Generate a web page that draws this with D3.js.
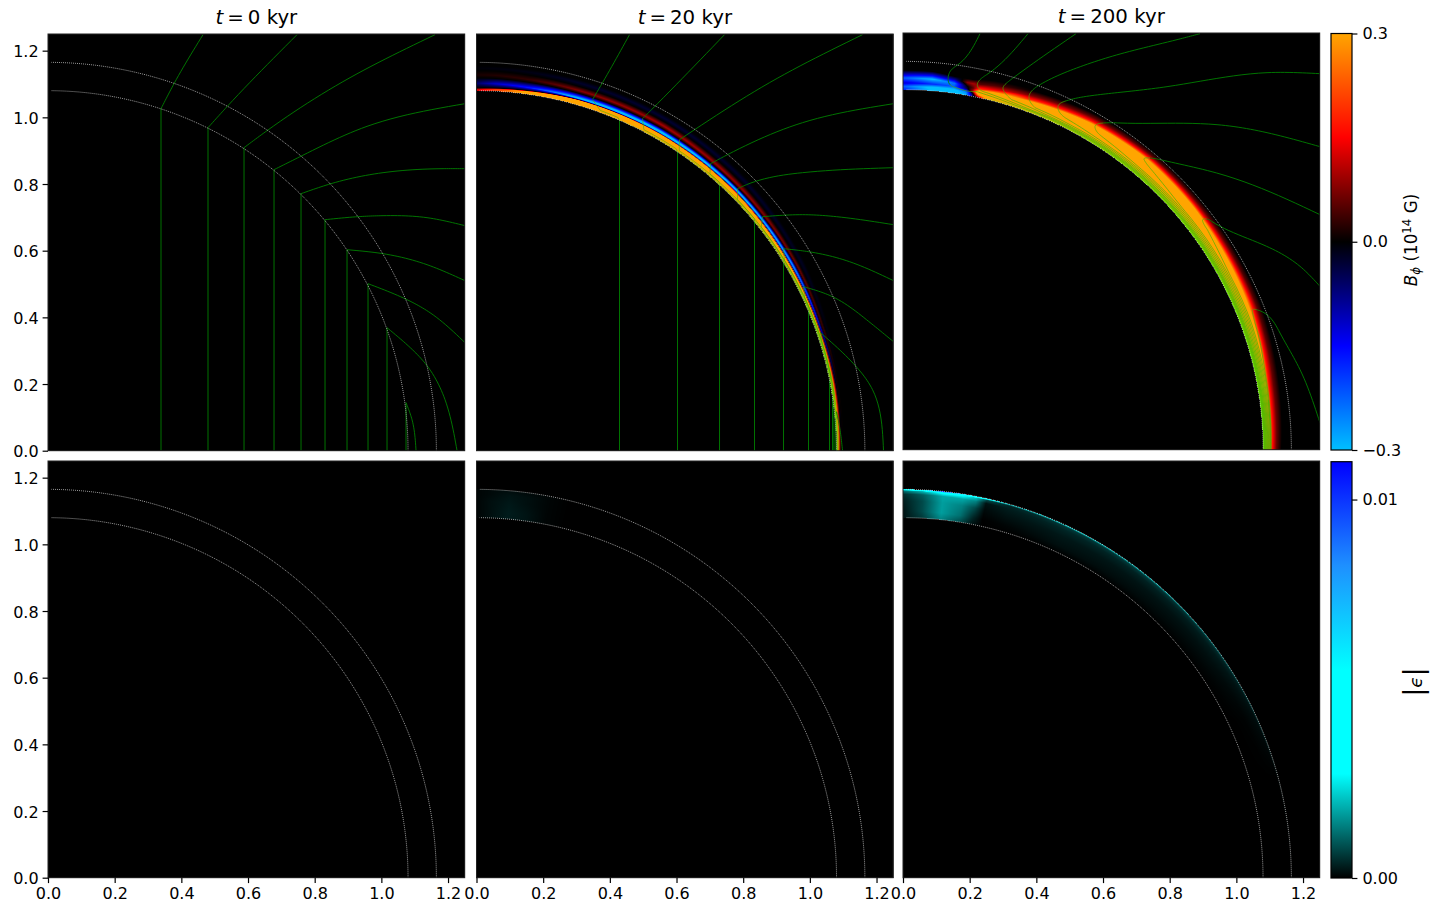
<!DOCTYPE html>
<html>
  <head>
    <meta charset="utf-8" />
    <title>Crust field evolution</title>
    <script src="https://cdnjs.cloudflare.com/ajax/libs/d3/7.8.5/d3.min.js"></script>
    <style type="text/css">
      html, body { margin: 0; background: #fff; }
      svg { display: block; }
      text { font-family: "DejaVu Sans", sans-serif; fill: #000; }
    </style>
  </head>
  <body>
    <svg id="fig" width="1431" height="908"></svg>

    <script type="text/javascript">

    var axisTicks = [0, 0.2, 0.4, 0.6, 0.8, 1.0, 1.2];
    var titles = ['0', '20', '200'];
    var innerR = 1.08, outerR = 1.165;

    // t = 0: straight core lines, then the tails outside the crust
    var t0Tails = [
      [[.339,1.026],[.378,1.101],[.465,1.248]],
      [[.480,.969],[.537,1.032],[.747,1.248]],
      [[.588,.909],[.657,.960],[.906,1.119],[1.161,1.248]],
      [[.678,.843],[.762,.885],[.957,.973],[1.251,1.041]],
      [[.759,.771],[.849,.801],[1.005,.834],[1.185,.846],[1.251,.846]],
      [[.831,.693],[.930,.702],[1.005,.705],[1.137,.699],[1.251,.675]],
      [[.897,.603],[1.005,.591],[1.137,.558],[1.251,.510]],
      [[.960,.501],[1.077,.453],[1.146,.414],[1.251,.324]],
      [[1.017,.369],[1.077,.318],[1.137,.255],[1.191,.153],[1.227,0]],
      [[1.074,.144],[1.092,.093],[1.104,0]]
    ];

    // t = 20 kyr: core feet have moved, tails start where the line leaves the band
    var t20Feet = [.429, .603, .729, .834, .921, .996, 1.059, 1.068, 1.072, 1.076];
    var t20Tails = [
      [[.348,1.053],[.378,1.104],[.459,1.248]],
      [[.498,.996],[.525,1.023],[.744,1.248]],
      [[.609,.933],[.879,1.104],[1.158,1.248]],
      [[.702,.861],[.753,.888],[.978,.984],[1.251,1.041]],
      [[.783,.786],[.810,.798],[.978,.834],[1.251,.849]],
      [[.858,.702],[.978,.708],[1.08,.702],[1.251,.678]],
      [[.921,.606],[.996,.597],[1.119,.567],[1.251,.51]],
      [[.981,.492],[1.068,.462],[1.17,.393],[1.251,.327]],
      [[1.032,.354],[1.131,.261],[1.188,.183],[1.221,0]],
      [[1.08,.117],[1.089,.072],[1.098,0]]
    ];

    // t = 200 kyr: everything is swept along the band, lines hook at the top of it
    var t200HugR = [1.086, 1.089, 1.092, 1.096, 1.10, 1.104, 1.108, 1.112, 1.115];
    var t200HugEq = [1.084, 1.0865, 1.089, 1.0915, 1.094, 1.0965, 1.099, 1.1015, 1.104];
    var t200Hooks = [
      [[.222,1.074],[.192,1.076],[.162,1.085],[.141,1.095],[.141,1.134],[.165,1.155],[.231,1.248]],
      [[.251,1.071],[.231,1.08],[.223,1.095],[.231,1.11],[.251,1.125],[.375,1.248]],
      [[.326,1.05],[.306,1.07],[.30,1.085],[.311,1.10],[.33,1.115],[.519,1.248]],
      [[.396,1.026],[.381,1.045],[.378,1.06],[.39,1.08],[.411,1.095],[.521,1.145],[.651,1.187],[.822,1.23],[.891,1.248]],
      [[.486,.996],[.468,1.015],[.465,1.03],[.491,1.047],[.551,1.06],[.651,1.072],[.792,1.089],[1.092,1.131],[1.251,1.128]],
      [[.596,.94],[.578,.96],[.576,.97],[.601,.98],[.651,.98],[.942,.975],[1.092,.951],[1.251,.909]],
      [[.741,.845],[.726,.865],[.723,.872],[.741,.875],[.781,.868],[.941,.83],[1.251,.705]],
      [[.913,.66],[.901,.68],[.899,.69],[.911,.692],[.926,.685],[1.091,.61],[1.191,.55],[1.251,.49]],
      [[1.056,.38],[1.049,.41],[1.049,.42],[1.061,.42],[1.131,.35],[1.191,.24],[1.251,.08]]
    ];
    var t200LastLine = [[1.103,0],[1.101,.08],[1.096,.15]];

    // B_phi, knots across the crust per latitude (degrees from the equator)
    var t20Angles = [0, 10, 20, 30, 45, 60, 74, 82, 87, 90];
    var t20KnotR = [
      [1.08,1.085,1.092,1.094,1.096,1.098,1.10,1.102,1.104],
      [1.08,1.088,1.095,1.097,1.099,1.101,1.103,1.105,1.107],
      [1.08,1.089,1.092,1.095,1.099,1.103,1.108,1.113,1.12],
      [1.08,1.092,1.094,1.099,1.106,1.11,1.118,1.126,1.135],
      [1.08,1.097,1.099,1.103,1.111,1.118,1.13,1.14,1.15],
      [1.08,1.097,1.099,1.102,1.115,1.124,1.136,1.145,1.155],
      [1.08,1.094,1.096,1.10,1.115,1.123,1.135,1.145,1.155],
      [1.08,1.088,1.091,1.10,1.116,1.124,1.137,1.146,1.155],
      [1.08,1.085,1.089,1.102,1.118,1.127,1.14,1.147,1.155],
      [1.08,1.084,1.088,1.102,1.118,1.127,1.14,1.147,1.155]
    ];
    var t20KnotB = [
      [.25,.3,0,0,0,0,0,0,0],
      [.3,.3,0,-.02,0,.01,0,0,0],
      [.4,.4,0,-.16,0,.04,0,-.01,0],
      [.45,.45,0,-.32,0,.07,0,-.02,0],
      [.45,.45,0,-.42,0,.09,0,-.025,0],
      [.45,.45,0,-.44,0,.1,0,-.03,0],
      [.4,.4,0,-.34,0,.08,0,-.025,0],
      [.32,.32,0,-.17,0,.03,0,-.012,0],
      [.2,.2,0,-.12,0,.02,0,-.008,0],
      [.12,.12,0,-.06,0,.015,0,-.004,0]
    ];
    var t20TintAlpha = [1, 1, .95, .85, .7, .5, 0, 0, 0, 0];
    var t20TintEdge = [1.09, 1.09, 1.09, 1.087, 1.086, 1.085, 1.081, 1.081, 1.081, 1.081];

    var t200Angles = [0, 10, 22, 40, 50, 60, 70, 76, 78, 79, 80, 82, 85.5, 90];
    var t200KnotR = [
      [1.08,1.10,1.108,1.12,1.135,1.145,1.15],
      [1.08,1.105,1.115,1.128,1.145,1.15,1.155],
      [1.08,1.122,1.133,1.145,1.158,1.16,1.162],
      [1.08,1.13,1.143,1.153,1.163,1.164,1.165],
      [1.08,1.133,1.146,1.155,1.165,1.165,1.165],
      [1.08,1.122,1.137,1.148,1.16,1.162,1.164],
      [1.08,1.105,1.118,1.13,1.145,1.15,1.155],
      [1.08,1.09,1.10,1.112,1.125,1.14,1.15],
      [1.08,1.088,1.095,1.105,1.12,1.135,1.15],
      [1.08,1.088,1.095,1.105,1.118,1.13,1.15],
      [1.08,1.09,1.10,1.108,1.118,1.13,1.15],
      [1.08,1.09,1.10,1.11,1.12,1.13,1.15],
      [1.08,1.09,1.10,1.115,1.125,1.138,1.15],
      [1.08,1.09,1.10,1.115,1.125,1.138,1.15]
    ];
    var t200KnotB = [
      [.2,.25,.16,.06,0,0,0],
      [.3,.3,.16,.06,0,0,0],
      [.3,.3,.15,.05,0,0,0],
      [.45,.4,.15,.05,0,0,0],
      [.45,.4,.15,.05,0,0,0],
      [.45,.45,.16,.06,0,0,0],
      [.45,.45,.18,.07,0,0,0],
      [.4,.45,.4,.15,.05,0,0],
      [.05,.3,.45,.2,.05,0,0],
      [-.1,-.05,.1,.05,.1,0,0],
      [-.3,-.25,-.05,0,.08,0,0],
      [-.32,-.32,-.22,-.24,-.1,0,0],
      [-.3,-.32,-.18,-.3,-.15,0,0],
      [-.17,-.22,-.12,-.22,-.12,0,0]
    ];
    var t200TintAlpha = [1, 1, 1, .95, .9, .8, .5, .35, 0, 0, 0, 0, 0, 0];
    var t200TintEdge = [1.108, 1.105, 1.102, 1.10, 1.10, 1.097, 1.092, 1.088, 1.081, 1.081, 1.081, 1.081, 1.081, 1.081];

    // |epsilon| tables
    var epsKnotR = [1.08, 1.10, 1.13, 1.15, 1.16, 1.165];
    var eps20Angles = [0, 76, 79, 82, 85, 88, 90];
    var eps20Values = [
      [0,0,0,0,0,0],
      [0,0,0,0,0,0],
      [.00005,.00005,.00005,.00005,.00005,.00005],
      [.0002,.0002,.00015,.00015,.0001,.0001],
      [.0003,.0003,.00025,.0002,.00015,.00015],
      [.00015,.00015,.00015,.0001,.0001,.0001],
      [.00005,.00005,.00005,.00005,.00005,.00005]
    ];
    var eps200Angles = [0, 15, 25, 35, 50, 65, 74, 77.5, 79, 81, 84, 87, 90];
    var eps200Values = [
      [0,0,0,0,0,0],
      [0,0,0,0,0,.0001],
      [0,0,.00003,.0001,.00015,.0005],
      [0,.00005,.00015,.00025,.0004,.001],
      [0,.0001,.0002,.00035,.0006,.0018],
      [0,.00015,.00025,.0004,.0006,.0022],
      [0,.00005,.0002,.0003,.0004,.002],
      [0,0,.0001,.0002,.0008,.004],
      [.0002,.0004,.0008,.0014,.002,.005],
      [.0008,.0012,.0014,.0018,.0028,.007],
      [.0014,.0017,.0017,.0018,.003,.011],
      [.0006,.0008,.0008,.001,.002,.006],
      [.0002,.0002,.0003,.0005,.0012,.003]
    ];

    var bStops = [-0.3, -0.15, 0, 0.15, 0.3];
    var bColours = ['#00bfff', '#0000ff', '#000000', '#ff0000', '#ffa500'];
    var epsStops = [0, 0.00275, 0.0055, 0.00825, 0.011];
    var epsColours = ['#000000', '#00ffff', '#00ffff', '#1e90ff', '#0000ff'];

    var bColour = d3.scaleLinear().domain(bStops).range(bColours).clamp(true);
    var epsColour = d3.scaleLinear().domain(epsStops).range(epsColours).clamp(true);

    var svg = d3.select('#fig');
    var defs = svg.append('defs');
    var size = 416.7;

    var panels = [
      { left: 48,    top: 34,  col: 0 },
      { left: 476.5, top: 34,  col: 1 },
      { left: 903,   top: 33,  col: 2 },
      { left: 48,    top: 461, col: 0 },
      { left: 476.5, top: 461, col: 1 },
      { left: 903,   top: 461, col: 2 }
    ];

    function polar(r, deg) {
      var a = deg * Math.PI / 180;
      return [r * Math.cos(a), r * Math.sin(a)];
    }

    function toPolar(p) {
      return [Math.hypot(p[0], p[1]), Math.atan2(p[1], p[0]) * 180 / Math.PI];
    }

    // value at (r, deg): knot positions and values both slide between latitude rows
    function tableAt(r, deg, angles, knotR, knotV) {
      var j = Math.min(Math.max(d3.bisectRight(angles, deg), 1), angles.length - 1),
          t = (deg - angles[j - 1]) / (angles[j] - angles[j - 1]),
          rowA = knotR[j - 1], rowB = knotR[j] || rowA,
          valA = knotV[j - 1], valB = knotV[j],
          prevR = rowA[0] + (rowB[0] - rowA[0]) * t,
          prevV = valA[0] + (valB[0] - valA[0]) * t;
      if (r <= prevR) return prevV;
      for (var k = 1; k < rowA.length; k++) {
        var nextR = rowA[k] + (rowB[k] - rowA[k]) * t,
            nextV = valA[k] + (valB[k] - valA[k]) * t;
        if (r <= nextR) return prevV + (nextV - prevV) * (r - prevR) / Math.max(nextR - prevR, 1e-6);
        prevR = nextR;
        prevV = nextV;
      }
      return prevV;
    }

    function rows(knots, n) {
      return d3.range(n).map(function() { return knots; });
    }

    function bField(angles, knotR, knotB, tintAlpha, tintEdge) {
      var alphaAt = d3.scaleLinear().domain(angles).range(tintAlpha),
          edgeAt = d3.scaleLinear().domain(angles).range(tintEdge);
      return function(r, deg) {
        var c = d3.rgb(bColour(tableAt(r, deg, angles, knotR, knotB))),
            m = alphaAt(deg) * (1 - (r - innerR) / (edgeAt(deg) - innerR));
        if (m > 0) {
          c.r += (90 - c.r) * m;
          c.g += (215 - c.g) * m;
          c.b += (0 - c.b) * m;
        }
        return c;
      };
    }

    function epsField(angles, values) {
      var knots = rows(epsKnotR, angles.length);
      return function(r, deg) {
        return d3.rgb(epsColour(tableAt(r, deg, angles, knots, values)));
      };
    }

    var heatFields = [
      null,
      bField(t20Angles, t20KnotR, t20KnotB, t20TintAlpha, t20TintEdge),
      bField(t200Angles, t200KnotR, t200KnotB, t200TintAlpha, t200TintEdge),
      null,
      epsField(eps20Angles, eps20Values),
      epsField(eps200Angles, eps200Values)
    ];

    function rasterField(field, x, y) {
      var w = Math.round(size), h = Math.round(size),
          canvas = document.createElement('canvas');
      canvas.width = w;
      canvas.height = h;
      var ctx = canvas.getContext('2d'),
          img = ctx.createImageData(w, h);
      for (var py = 0; py < h; py++) {
        for (var px = 0; px < w; px++) {
          var i = (py * w + px) * 4,
              dx = x.invert(px + 0.5),
              dy = y.invert(py + 0.5),
              r = Math.hypot(dx, dy);
          img.data[i + 3] = 255;
          if (!field || r < innerR || r > outerR) continue;
          var c = field(r, Math.atan2(dy, dx) * 180 / Math.PI);
          img.data[i] = c.r;
          img.data[i + 1] = c.g;
          img.data[i + 2] = c.b;
        }
      }
      ctx.putImageData(img, 0, 0);
      return canvas.toDataURL();
    }

    // natural spline by chord length, so uneven point spacing doesn't kink the tails
    var splineSteps = 12;

    function secondDerivs(t, v) {
      var n = t.length, d2 = new Array(n).fill(0), u = new Array(n).fill(0), i;
      for (i = 1; i < n - 1; i++) {
        var sig = (t[i] - t[i - 1]) / (t[i + 1] - t[i - 1]),
            p = sig * d2[i - 1] + 2;
        d2[i] = (sig - 1) / p;
        u[i] = (v[i + 1] - v[i]) / (t[i + 1] - t[i]) - (v[i] - v[i - 1]) / (t[i] - t[i - 1]);
        u[i] = (6 * u[i] / (t[i + 1] - t[i - 1]) - sig * u[i - 1]) / p;
      }
      d2[n - 1] = 0;
      for (i = n - 2; i >= 0; i--) d2[i] = d2[i] * d2[i + 1] + u[i];
      return d2;
    }

    function smooth(pts) {
      var t = [0];
      pts.forEach(function(p, i) {
        if (i) t.push(t[i - 1] + Math.hypot(p[0] - pts[i - 1][0], p[1] - pts[i - 1][1]));
      });
      var xs = pts.map(function(p) { return p[0]; }),
          ys = pts.map(function(p) { return p[1]; }),
          ddx = secondDerivs(t, xs),
          ddy = secondDerivs(t, ys),
          out = [];
      function evalAt(v, dd, i, a) {
        var h = t[i + 1] - t[i], b = 1 - a;
        return b * v[i] + a * v[i + 1] + ((b * b * b - b) * dd[i] + (a * a * a - a) * dd[i + 1]) * h * h / 6;
      }
      for (var i = 0; i < pts.length - 1; i++) {
        for (var s = 0; s < splineSteps; s++) {
          out.push([evalAt(xs, ddx, i, s / splineSteps), evalAt(ys, ddy, i, s / splineSteps)]);
        }
      }
      out.push(pts[pts.length - 1]);
      return out;
    }

    var fieldColour = '#008000', hugColour = '#46b400';

    function drawLine(g, line, pts, curve, colour, width) {
      g.append('path')
        .attr('d', line.curve(curve)(pts))
        .attr('fill', 'none')
        .attr('stroke', colour || fieldColour)
        .attr('stroke-width', width || 0.9);
    }

    var centripetal = d3.curveCatmullRom.alpha(0.5);

    function drawT0(g, line) {
      t0Tails.forEach(function(tail) {
        drawLine(g, line, [[tail[0][0], 0], tail[0]], d3.curveLinear);
        drawLine(g, line, smooth(tail), d3.curveLinear);
      });
    }

    function drawT20(g, line) {
      t20Tails.forEach(function(tail, i) {
        var x0 = t20Feet[i],
            foot = [x0, Math.sqrt(innerR * innerR - x0 * x0)],
            from = toPolar(foot)[1],
            to = toPolar(tail[0])[1],
            hug = [foot];
        d3.range(from + 0.4, to - 0.8, 1).forEach(function(a) { hug.push(polar(innerR + 0.006, a)); });
        hug.push(tail[0]);
        drawLine(g, line, [[x0, 0], foot], d3.curveLinear);
        drawLine(g, line, hug, d3.curveLinear, hugColour, 0.6);
        drawLine(g, line, smooth(tail), d3.curveLinear);
      });
    }

    function drawT200(g, line) {
      t200Hooks.forEach(function(hook, i) {
        var start = toPolar(hook[0]),
            hug = [hook[0]],
            path = smooth(hook),
            split = 3 * splineSteps;
        hug.push(polar((start[0] + t200HugR[i]) / 2, start[1] - 3));
        d3.range(start[1] - 8, 0, -2).forEach(function(a) {
          var mix = Math.min(a / 20, 1);
          hug.push(polar(t200HugEq[i] + (t200HugR[i] - t200HugEq[i]) * mix, a));
        });
        hug.push(polar(t200HugEq[i], 0));
        drawLine(g, line, hug, centripetal, hugColour, 0.7);
        drawLine(g, line, path.slice(0, split + 1), d3.curveLinear, hugColour, 0.7);
        drawLine(g, line, path.slice(split), d3.curveLinear);
      });
      drawLine(g, line, t200LastLine, centripetal, hugColour, 0.7);
    }

    var overlays = [drawT0, drawT20, drawT200, null, null, null];
    var circleAngles = d3.range(0, 89.6, 0.5);

    panels.forEach(function(p, idx) {
      var x = d3.scaleLinear().domain([0, 1.25]).range([0, size]),
          y = d3.scaleLinear().domain([0, 1.25]).range([size, 0]),
          line = d3.line().x(function(d) { return x(d[0]); }).y(function(d) { return y(d[1]); }),
          g = svg.append('g').attr('transform', 'translate(' + p.left + ',' + p.top + ')'),
          clipId = 'clip' + idx;

      defs.append('clipPath').attr('id', clipId)
        .append('rect').attr('width', size).attr('height', size);

      g.append('image')
        .attr('width', Math.round(size))
        .attr('height', Math.round(size))
        .attr('href', rasterField(heatFields[idx], x, y));

      var inner = g.append('g').attr('clip-path', 'url(#' + clipId + ')');

      if (overlays[idx]) overlays[idx](inner, line);

      [innerR, outerR].forEach(function(r) {
        inner.append('path')
          .attr('d', line.curve(d3.curveLinear)(circleAngles.map(function(a) { return polar(r, a); })))
          .attr('fill', 'none')
          .attr('stroke', '#ccc')
          .attr('stroke-width', 0.75)
          .attr('stroke-dasharray', '1 1');
      });

      g.append('rect')
        .attr('width', size)
        .attr('height', size)
        .attr('fill', 'none')
        .attr('stroke', '#222')
        .attr('stroke-width', 1);

      if (p.col === 0) {
        styleAxis(g.append('g').call(d3.axisLeft(y).tickValues(axisTicks).tickFormat(d3.format('.1f')).tickSize(5.4).tickPadding(4)), '.38em');
      }
      if (idx >= 3) {
        styleAxis(g.append('g').attr('transform', 'translate(0,' + size + ')')
          .call(d3.axisBottom(x).tickValues(axisTicks).tickFormat(d3.format('.1f')).tickSize(5.4).tickPadding(5)));
      } else {
        var title = g.append('text')
          .attr('x', size / 2)
          .attr('y', -10)
          .attr('text-anchor', 'middle')
          .style('font-size', '19.8px');
        title.append('tspan').style('font-style', 'italic').text('t');
        title.append('tspan').attr('dx', 4).text('=');
        title.append('tspan').attr('dx', 4).text(titles[idx]);
        title.append('tspan').text(' kyr');
      }
    });

    function styleAxis(sel, dy) {
      sel.select('.domain').remove();
      sel.selectAll('line').attr('stroke', '#000').attr('stroke-width', 1.2);
      sel.selectAll('text').style('font-size', '16px').style('font-family', '"DejaVu Sans", sans-serif');
      if (dy) sel.selectAll('text').attr('dy', dy);
    }

    function colourbar(id, scale, stops, colours, top, bottom, ticks, fmt) {
      var grad = defs.append('linearGradient').attr('id', id)
        .attr('x1', 0).attr('x2', 0).attr('y1', 1).attr('y2', 0);
      var lo = stops[0], hi = stops[stops.length - 1];
      grad.selectAll('stop').data(stops).enter().append('stop')
        .attr('offset', function(d) { return (d - lo) / (hi - lo); })
        .attr('stop-color', function(d, i) { return colours[i]; });

      var axis = d3.scaleLinear().domain([lo, hi]).range([bottom, top]);
      var g = svg.append('g').attr('transform', 'translate(1331,0)');
      g.append('rect')
        .attr('y', top)
        .attr('width', 21)
        .attr('height', bottom - top)
        .attr('fill', 'url(#' + id + ')')
        .attr('stroke', '#000')
        .attr('stroke-width', 1.2);
      styleAxis(g.append('g').attr('transform', 'translate(21,0)')
        .call(d3.axisRight(axis).tickValues(ticks).tickFormat(d3.format(fmt)).tickSize(5.4).tickPadding(5)), '.32em');
    }

    colourbar('bGrad', bColour, bStops, bColours, 33.5, 450, [-0.3, 0, 0.3], '.1f');
    colourbar('epsGrad', epsColour, epsStops, epsColours, 461.7, 878, [0, 0.01], '.2f');

    var bLabel = svg.append('text')
      .attr('transform', 'translate(1417,240) rotate(-90)')
      .attr('text-anchor', 'middle')
      .style('font-size', '16.8px');
    bLabel.append('tspan').style('font-style', 'italic').text('B');
    bLabel.append('tspan').attr('dy', 3).style('font-size', '11.8px').style('font-style', 'italic').text('\u03d5');
    bLabel.append('tspan').attr('dy', -3).text(' (10');
    bLabel.append('tspan').attr('dy', -6).style('font-size', '11.8px').text('14');
    bLabel.append('tspan').attr('dy', 6).text(' G)');

    var epsLabel = svg.append('text')
      .attr('transform', 'translate(1422,682) rotate(-90)')
      .attr('text-anchor', 'middle')
      .style('font-size', '26px');
    epsLabel.append('tspan').text('|');
    epsLabel.append('tspan').style('font-style', 'italic').style('font-size', '18.4px').text('\u03f5');
    epsLabel.append('tspan').text('|');

    </script>
  </body>
</html>
